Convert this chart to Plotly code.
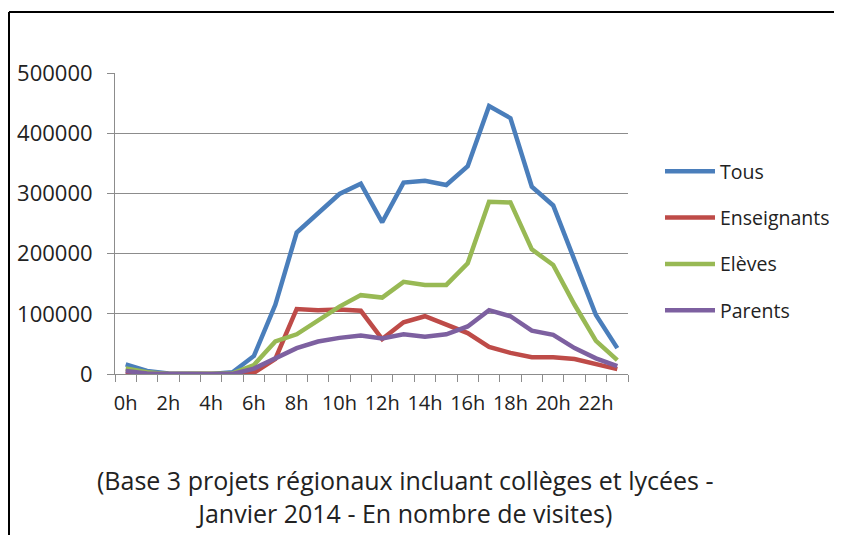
import plotly.graph_objects as go

hours = list(range(24))
hour_labels = [f"{h}h" for h in range(0, 24, 2)]
tous = [16000, 5000, 1000, 0, 0, 3000, 30000, 115000, 235000, 267000, 299000, 316000,
        252000, 318000, 321000, 314000, 345000, 445000, 425000, 311000, 280000, 189000, 98000, 43000]
enseignants = [3000, 0, 0, 0, 0, 0, 2000, 25000, 108000, 106000, 107000, 105000,
               58000, 86000, 96000, 82000, 68000, 45000, 35000, 28000, 28000, 25000, 17000, 8000]
eleves = [9000, 3000, 0, 0, 0, 1000, 15000, 54000, 66000, 89000, 112000, 131000,
          127000, 153000, 148000, 148000, 184000, 286000, 285000, 207000, 181000, 115000, 55000, 23000]
parents = [5000, 1000, 0, 0, 0, 0, 9000, 26000, 43000, 54000, 60000, 64000,
           59000, 66000, 62000, 66000, 79000, 106000, 96000, 72000, 65000, 43000, 26000, 13000]
series = [("Tous", tous, "#4A7EBB"), ("Enseignants", enseignants, "#BE4B48"),
          ("Elèves", eleves, "#98B954"), ("Parents", parents, "#7D60A0")]
caption = "(Base 3 projets régionaux incluant collèges et lycées -<br>Janvier 2014 - En nombre de visites)"

FONT = "Open Sans"
OFF = 8  # page body margin
fig = go.Figure()
for i, (name, vals, col) in enumerate(series):
    fig.add_trace(go.Scatter(x=hours, y=vals, name=name, mode="lines",
                             line=dict(color=col, width=4.5), legendgroup=f"g{i}"))

W, H = 842, 535
# plot area in screen coords: x 115..628, y 73..374
L = 115 - OFF
T = 73 - OFF
pw = 628 - 115
ph = 374 - 73
R = W - L - pw
B = H - T - ph

def px(sx):
    return (sx - OFF - L) / pw

def py(sy):
    return (T + ph - (sy - OFF)) / ph

fig.update_layout(
    width=W, height=H,
    margin=dict(l=L, r=R, t=T, b=B, autoexpand=False),
    paper_bgcolor="white", plot_bgcolor="white",
    font=dict(family=FONT, size=20, color="#222222"),
    showlegend=True,
    legend=dict(x=px(660), y=py(241), xanchor="left", yanchor="middle",
                font=dict(size=19.5, family=FONT), tracegroupgap=18, itemwidth=50,
                bgcolor="rgba(0,0,0,0)"),
    xaxis=dict(range=[-0.5, 23.5], tickvals=list(range(0, 24, 2)), ticktext=hour_labels,
               ticks="", showgrid=False, zeroline=False, showline=True,
               linecolor="#8C8C8C", linewidth=1, ticklabelstandoff=11,
               tickfont=dict(size=20, family=FONT),
               minor=dict(tickvals=[i - 0.5 for i in range(25)], ticks="outside",
                          ticklen=7, tickcolor="#8C8C8C", showgrid=False)),
    yaxis=dict(range=[0, 500000], dtick=100000, tickformat="d",
               showgrid=True, gridcolor="#8C8C8C", gridwidth=1,
               zeroline=False, showline=True, linecolor="#8C8C8C", linewidth=1,
               ticks="outside", ticklen=7, tickcolor="#8C8C8C", ticklabelstandoff=10,
               tickfont=dict(size=22, family=FONT)),
    shapes=[
        dict(type="line", xref="paper", yref="paper", x0=px(9), x1=px(W + 20), y0=py(12), y1=py(12),
             line=dict(color="black", width=2)),
        dict(type="line", xref="paper", yref="paper", x0=px(9), x1=px(9), y0=py(12), y1=py(H + 20),
             line=dict(color="black", width=2)),
    ],
    annotations=[dict(text=caption, xref="paper", yref="paper", x=px(405), y=py(497),
                      xanchor="center", yanchor="middle", showarrow=False,
                      font=dict(size=25, family=FONT, color="#222222"))],
)

fig.write_html("out.html")
